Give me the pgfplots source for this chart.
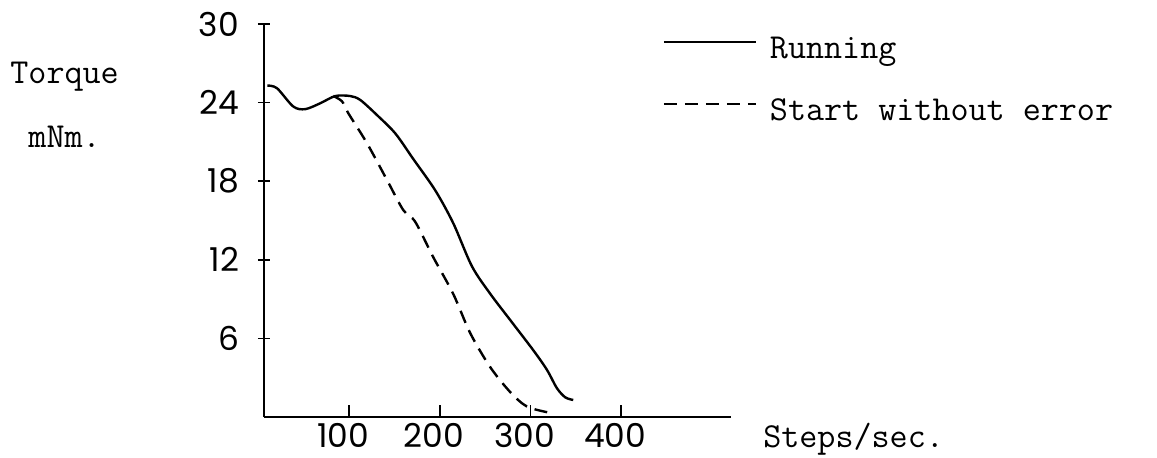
\documentclass[border=0pt]{standalone}
\usepackage{pgfplots}
\pgfplotsset{compat=1.18}
\usepackage{fontspec}
\newfontfamily\tickfont{Poppins}
\newcommand\tw{\ttfamily\addfontfeatures{FakeBold=0.7}\fontsize{17.6}{18}\selectfont}

\begin{document}
\begin{tikzpicture}
\useasboundingbox (-132bp,-20.5bp) rectangle (446.5bp,208.5bp);
\begin{axis}[
    scale only axis,
    width=233.45bp, height=196.5bp,
    xmin=6, xmax=521, ymin=0, ymax=30,
    axis lines=left,
    axis line style={-, line width=1bp},
    xtick={100,200,300,400},
    ytick={6,12,18,24,30},
    xtick align=inside, ytick align=center,
    major tick length=6bp,
    every tick/.style={line width=0.8bp, black},
    /pgf/number format/assume math mode=true,
    tick label style={font=\tickfont\fontsize{16.5}{17}\selectfont},
    yticklabel style={xshift=-6bp},
    xticklabel style={inner sep=1bp, yshift=-2bp, xshift=-3bp},
    xlabel={Steps/sec.},
    xlabel style={at={(rel axis cs:1,0)}, anchor=base west, xshift=16bp, yshift=-15bp,
        font=\tw, inner sep=0pt},
    ylabel={Torque\\mNm.},
    every axis y label/.style={at={(rel axis cs:0,1)}, anchor=north west, align=center,
        xshift=-127bp, yshift=-19bp, inner sep=0pt,
        font=\ttfamily\addfontfeatures{FakeBold=0.7}\fontsize{17.6}{32}\selectfont},
    legend cell align=left,
    legend image code/.code={\draw[#1] (0bp,4bp) -- (46bp,4bp);},
    legend style={draw=none, fill=none, at={(rel axis cs:0.84,0.98)}, anchor=north west,
        font=\tw, row sep=17bp,
        nodes={inner sep=0pt, text height=11bp, text depth=3bp},
        /tikz/every odd column/.style={column sep=6.5bp}},
]
\addplot[black, line width=1.2bp, smooth] coordinates {
    (9.6,25.3) (20.3,25.1) (38.3,23.7) (51.5,23.5) (68.1,23.95) (84.6,24.5)
    (101.1,24.5) (112.2,24.2) (130.6,23.05) (150.8,21.65) (170.6,19.7)
    (194.9,17.3) (214.7,14.8) (235.4,11.5) (255.6,9.4) (277.6,7.4)
    (303.0,5.1) (318.1,3.6) (329.1,2.2) (338.3,1.5) (347.1,1.3)
};
\addlegendentry{Running}
\addplot[black, line width=1.2bp, smooth, dash pattern=on 6.5bp off 4bp] coordinates {
    (82.4,24.5) (92.0,24.1) (98.9,23.2) (119.6,20.9) (141.6,18.1)
    (159.6,15.8) (172.8,14.9) (192.7,12.2) (214.7,9.4) (233.5,6.4)
    (255.6,3.8) (277.6,1.9) (296.0,0.8) (319.5,0.35)
};
\addlegendentry{Start without error}
\end{axis}
\end{tikzpicture}
\end{document}
